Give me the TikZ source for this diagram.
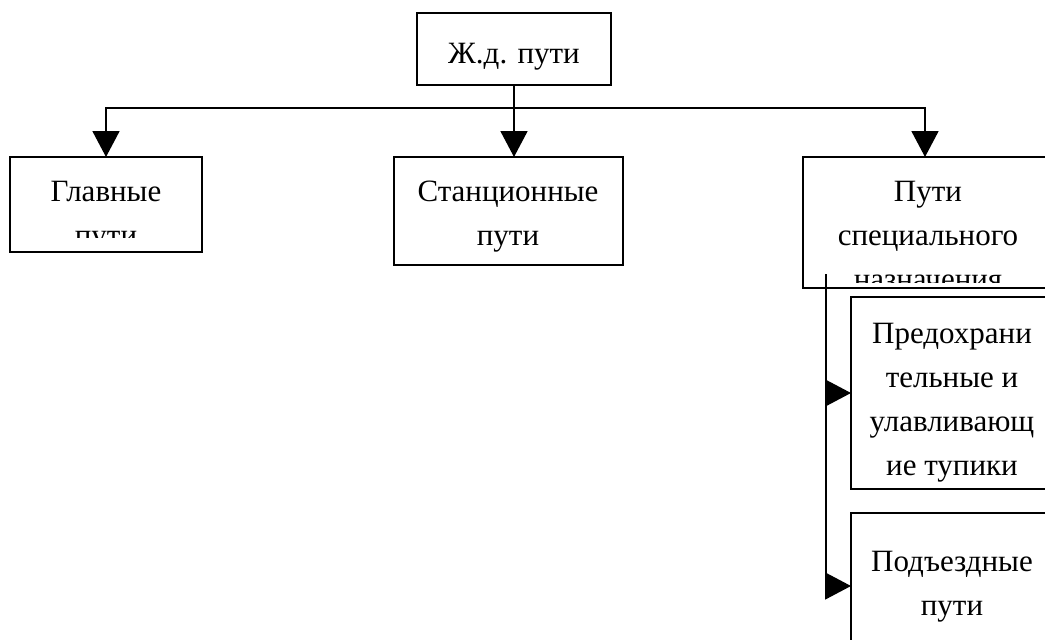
\documentclass[tikz,border=0pt]{standalone}
\usepackage{fontspec}
\setmainfont{Liberation Serif}
\usetikzlibrary{arrows.meta}
\begin{document}
\begin{tikzpicture}[x=1pt,y=-1pt,
  box/.style={draw, line width=1.8pt, inner sep=0pt, outer sep=0pt, anchor=north west},
  txt/.style={anchor=base, align=center, inner sep=0pt, font=\fontsize{31}{44}\selectfont},
  arr/.style={line width=1.8pt, -{Triangle[length=26pt,width=27pt]}}]
\path[clip] (0,0) rectangle (1045,640);
\fill[white] (0,0) rectangle (1045,640);
% boxes
\node[box, minimum width=194pt, minimum height=72pt] (top) at (417,13) {};
\node[box, minimum width=192pt, minimum height=95pt] (glav) at (10,157) {};
\node[box, minimum width=229pt, minimum height=108pt] (stan) at (394,157) {};
\node[box, minimum width=244pt, minimum height=131pt] (spec) at (803,157) {};
\node[box, minimum width=204pt, minimum height=192pt] (pred) at (851,297) {};
\node[box, minimum width=204pt, minimum height=146pt] (podj) at (851,513) {};
% texts (anchored at the baseline of the last line)
\node[txt] (ttop) at (514,63) {Ж.д. пути};
\begin{scope}
  \clip (10,157) rectangle (202,237);
  \node[txt] (tglav) at (106,245) {Главные\\пути};
\end{scope}
\node[txt] (tstan) at (508,245) {Станционные\\пути};
\begin{scope}
  \clip (803,157) rectangle (1047,282);
  \node[txt] (tspec) at (928,289) {Пути\\специального\\назначения};
\end{scope}
\node[txt] (tpred) at (952,475) {Предохрани\\тельные и\\улавливающ\\ие тупики};
\node[txt] (tpodj) at (952,615) {Подъездные\\пути};
% connectors
\coordinate (jn) at (514,108);
\coordinate (bs) at (826,274);
\draw[arr] (top.south) -- (top.south |- stan.north);
\draw[arr] (jn) -| (glav.north);
\draw[arr] (jn) -| (spec.north);
\draw[arr] (bs) |- (pred.west);
\draw[arr] (bs) |- (podj.west);
\end{tikzpicture}
\end{document}
